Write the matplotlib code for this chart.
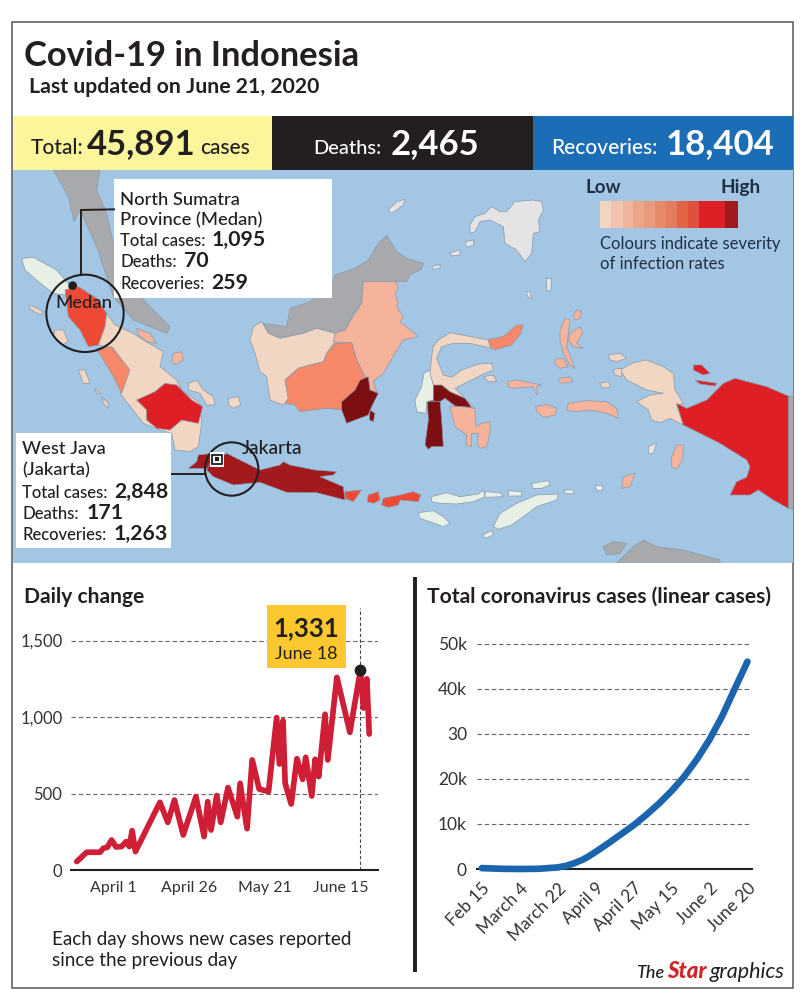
import matplotlib
matplotlib.use("Agg")
import matplotlib.pyplot as plt
from matplotlib.patches import Polygon, Rectangle, Circle

plt.rcParams['font.family'] = ['Lato', 'DejaVu Sans']

W, H = 805, 1000
INK = '#231f20'

# ---------- chart data ----------
daily_x = [-12.2, -8.9, -4.5, -3.4, -2.1, -0.7, 0.8, 2.6, 4.1, 5.2, 6.1, 7.2, 15.3, 17.9, 20.1, 23.0,
           27.2, 29.9, 31.1, 32.2, 34.1, 35.4, 37.8, 40.9, 41.8, 44.1, 45.8, 48.1, 51.2, 53.9, 54.8,
           56.0, 56.7, 58.7, 60.6, 62.5, 63.5, 65.5, 66.6, 67.8, 69.9, 70.8, 73.8, 78.1, 81.6, 82.6,
           83.7, 84.5]
daily_y = [57, 118, 118, 144, 150, 198, 152, 155, 187, 155, 259, 122, 444, 313, 459, 231,
           481, 220, 448, 263, 488, 313, 540, 350, 568, 272, 721, 531, 514, 997, 694,
           977, 568, 433, 729, 594, 738, 485, 725, 612, 1019, 721, 1260, 901, 1308, 1060,
           1250, 890]
daily_ticks = [0, 25, 50, 75]
daily_ticklabels = ['April 1', 'April 26', 'May 21', 'June 15']
daily_yticks = [0, 500, 1000, 1500]
daily_yticklabels = ['0', '500', '1,000', '1,500']
peak_x, peak_y = 81.6, 1308

total_x = [0, 9, 18, 27, 36, 40, 44, 48, 51, 54, 60, 66, 72, 78, 84, 90, 96, 102, 108, 114, 120, 123, 126]
total_y = [200, 50, 0, 50, 350, 700, 1300, 2100, 2900, 3800, 5700, 7700, 9700, 12000, 14500, 17300, 20500,
           24300, 28700, 33900, 40000, 43000, 46000]
total_ticks = [0, 18, 36, 54, 72, 90, 108, 126]
total_ticklabels = ['Feb 15', 'March 4', 'March 22', 'April 9', 'April 27', 'May 15', 'June 2', 'June 20']
total_yticks = [0, 10000, 20000, 30000, 40000, 50000]
total_yticklabels = ['0', '10k', '20k', '30', '40k', '50k']

legend_colors = ['#f1d5c1', '#f0c4ae', '#eeb49c', '#eba68a', '#e89a7e', '#e68a6c', '#e47c5f', '#e06545',
                 '#de503b', '#dd2026', '#a01a1d']
legend_edges = [600, 633, 668, 700, 733, 765, 797, 830, 863, 897, 975, 1014]

# ---------- map colours ----------
PALE = '#f0d6c3'; PEACH = '#f5b39c'; ORANGE = '#f7886a'; REDOR = '#ef4a36'; RED = '#df1f26'
BRICK = '#a21a1d'; DARK = '#7d0f12'; GREEN = '#e6f0e6'; GREY = '#a7a9ac'; LIGHT = '#e4e4e6'


def z5(pts):
    return [(x + 720, y + 30) for x, y in pts]


def z2(pts):
    return [(x + 1200, y) for x, y in pts]


def z7(pts):
    return [(x + 1230, y + 510) for x, y in pts]


# ---------- map outlines (traced, in map units) ----------
malay = [(160, 0), (300, 0), (290, 60), (320, 130), (340, 220), (380, 330), (440, 400), (510, 470), (500, 490),
         (450, 470), (400, 450), (340, 380), (290, 230), (240, 120), (222, 155), (205, 80)]
aceh = [(65, 265), (100, 262), (170, 300), (195, 330), (210, 345), (195, 375), (160, 370), (115, 335), (75, 300)]
n_sumatra = [(195, 360), (235, 350), (290, 385), (320, 430), (315, 470), (305, 510), (295, 525), (265, 530),
             (240, 480), (205, 440)]
mid_sumatra = [(320, 430), (345, 465), (400, 490), (430, 510), (490, 545), (480, 590), (530, 630), (545, 660),
               (600, 700), (605, 760), (595, 830), (570, 845), (525, 840), (515, 790), (480, 780), (430, 760),
               (360, 670), (385, 600), (340, 535), (295, 525), (315, 470)]
s_sumatra = [(410, 690), (465, 665), (495, 640), (530, 645), (575, 690), (608, 710), (595, 760), (545, 750),
             (510, 780), (470, 775), (440, 750), (440, 720)]
w_sumatra = [(290, 535), (335, 530), (390, 600), (365, 670), (340, 620), (310, 570)]
sum_isles = [[(90, 405), (130, 425), (120, 435), (88, 415)],
             [(165, 480), (190, 480), (205, 515), (185, 525), (160, 500)],
             [(235, 600), (255, 600), (270, 640), (250, 640)],
             [(285, 655), (300, 670), (290, 672)],
             [(305, 680), (325, 700), (325, 715), (310, 700)],
             [(565, 640), (590, 630), (610, 660), (640, 680), (645, 705), (620, 705), (600, 670), (565, 660)],
             [(685, 685), (715, 680), (722, 705), (700, 715), (685, 705)]]
sum_peach = [[(520, 550), (545, 545), (550, 570), (525, 585), (515, 570)],
             [(410, 475), (450, 490), (470, 520), (440, 515), (415, 495)]]

sarawak = z5([(70, 430), (140, 440), (150, 385), (210, 365), (275, 315), (285, 285), (345, 265), (385, 240),
              (415, 190), (440, 165), (470, 215), (500, 235), (550, 250), (545, 268), (510, 285), (500, 305),
              (465, 305), (370, 305), (365, 370), (340, 400), (315, 450), (285, 460), (230, 445), (190, 460),
              (120, 475), (85, 460)])
e_kal = z5([(370, 305), (465, 305), (475, 320), (465, 345), (475, 370), (470, 380), (490, 410), (480, 425),
            (535, 470), (490, 480), (465, 520), (430, 580), (400, 605), (410, 635), (390, 630), (375, 590),
            (350, 540), (335, 490), (280, 485), (285, 460), (315, 450), (345, 400), (365, 370)])
w_kal = z5([(65, 425), (85, 460), (120, 475), (190, 460), (230, 445), (285, 460), (285, 485), (260, 520),
            (250, 545), (175, 565), (135, 600), (145, 655), (130, 675), (90, 660), (80, 590), (60, 575),
            (45, 520), (30, 480), (40, 440)])
c_kal = z5([(285, 490), (335, 487), (350, 540), (375, 590), (350, 625), (305, 670), (305, 690), (260, 685),
            (180, 695), (165, 675), (135, 670), (145, 655), (135, 600), (175, 565), (250, 545), (260, 520)])
s_kal = z5([(360, 600), (385, 590), (390, 630), (415, 640), (395, 680), (385, 705), (320, 730), (305, 690),
            (305, 665), (345, 630)])
laut = z5([(390, 690), (405, 700), (400, 725), (388, 720)])
palawan = z5([(445, 90), (470, 65), (495, 58), (490, 75), (455, 100)])

n_sul = z2([(115, 510), (150, 488), (265, 510), (275, 535), (210, 520), (160, 520), (125, 530), (110, 565),
            (130, 615), (155, 622), (185, 600), (235, 582), (275, 580), (280, 600), (250, 612), (215, 630),
            (175, 650), (165, 655), (225, 715), (190, 710), (150, 675), (100, 645), (90, 610), (95, 560),
            (100, 530)])
gorontalo = z2([(265, 508), (310, 500), (350, 465), (370, 465), (360, 495), (335, 525), (285, 540), (270, 530)])
w_sul = z2([(72, 610), (90, 600), (100, 645), (100, 690), (80, 695), (78, 730), (50, 725), (45, 690), (65, 650)])
s_sul = z2([(82, 695), (120, 690), (125, 750), (130, 830), (95, 830), (85, 838), (75, 825), (85, 750)])
s_sul_arm = z2([(100, 645), (125, 645), (150, 665), (195, 685), (215, 712), (165, 708), (135, 685), (120, 695),
                (100, 695)])
se_sul = z2([(150, 710), (185, 710), (225, 715), (228, 770), (245, 760), (270, 755), (270, 790), (260, 830),
             (240, 835), (232, 820), (235, 790), (215, 790), (215, 830), (198, 825), (200, 795), (165, 770)])
togian = z2([(250, 620), (280, 615), (290, 635), (265, 635)])
maluku = [z2(p) for p in [
    [(495, 445), (510, 450), (505, 490), (500, 530), (525, 595), (510, 585), (490, 550), (480, 510), (480, 480)],
    [(530, 420), (545, 425), (540, 445), (525, 450), (520, 435)],
    [(510, 490), (540, 470), (548, 490), (530, 520), (550, 535), (520, 530), (505, 510)],
    [(465, 568), (490, 565), (505, 590), (480, 595), (465, 582)],
    [(478, 625), (510, 620), (518, 635), (490, 640), (476, 635)],
    [(322, 635), (350, 630), (425, 645), (410, 650), (412, 675), (405, 665), (400, 650), (340, 655), (325, 650)],
    [(407, 710), (440, 703), (470, 715), (465, 735), (430, 742), (410, 725)],
    [(505, 700), (560, 692), (620, 695), (650, 715), (655, 745), (620, 730), (570, 720), (525, 725), (500, 720)],
    [(830, 825), (850, 825), (848, 870), (830, 898), (815, 890), (815, 860)],
    [(670, 920), (705, 910), (690, 950), (665, 955)],
]]
birds_head = z2([(660, 600), (700, 578), (740, 570), (790, 590), (820, 610), (825, 660), (850, 700), (830, 705),
                 (850, 765), (810, 745), (780, 758), (755, 750), (745, 720), (710, 695), (750, 675), (790, 670),
                 (740, 660), (680, 630)])
west_papua_isles = [z2(p) for p in [
    [(625, 555), (660, 550), (680, 565), (650, 575), (630, 570)],
    [(640, 598), (665, 595), (665, 620), (645, 615)],
    [(598, 640), (625, 635), (632, 650), (610, 655)],
]]
papua = z2([(830, 700), (860, 715), (920, 690), (970, 640), (1005, 625), (1100, 650), (1165, 678), (1165, 1015),
            (1120, 990), (1075, 960), (1050, 975), (990, 975), (1010, 935), (1040, 922), (1050, 890), (1040, 870),
            (960, 820), (900, 790), (850, 765)])
biak = z2([(880, 585), (905, 585), (930, 610), (910, 615), (880, 600)])
yapen = z2([(885, 630), (950, 640), (945, 648), (900, 642)])
png = z2([(1165, 678), (1180, 680), (1180, 1018), (1165, 1015)])
mindanao = z2([(210, 165), (225, 140), (255, 130), (275, 110), (300, 125), (320, 125), (345, 95), (400, 90),
               (425, 95), (430, 120), (415, 150), (420, 185), (400, 190), (395, 250), (375, 275), (350, 240),
               (315, 220), (310, 170), (270, 150), (240, 155), (225, 185), (210, 190)])
phil_isles = [z2(p) for p in [
    [(195, 215), (220, 210), (222, 225), (200, 232)],
    [(150, 248), (180, 240), (180, 255), (155, 258)],
    [(95, 290), (120, 283), (120, 295), (100, 298)],
    [(440, 325), (455, 325), (452, 365), (440, 360)],
    [(378, 365), (390, 365), (395, 385), (385, 382)],
    [(745, 830), (770, 818), (760, 850), (745, 850)],
]]
lesser_sunda = [z7(p) for p in [
    [(65, 470), (110, 458), (150, 470), (205, 462), (220, 450), (225, 470), (190, 485), (140, 492), (90, 490),
     (65, 485)],
    [(225, 455), (270, 458), (280, 470), (225, 472)],
    [(295, 452), (335, 455), (335, 468), (295, 468)],
    [(250, 560), (270, 520), (320, 490), (380, 465), (445, 462), (440, 480), (380, 500), (340, 530), (305, 555),
     (265, 568)],
    [(218, 585), (245, 572), (250, 585), (225, 595)],
    [(25, 518), (70, 512), (100, 530), (120, 550), (100, 560), (60, 545), (30, 535)],
    [(365, 430), (415, 422), (420, 435), (395, 445), (368, 445)],
    [(462, 450), (490, 450), (492, 462), (465, 460)],
    [(555, 435), (575, 435), (575, 450), (558, 450)],
]]
banten = [(595, 855), (635, 850), (630, 895), (565, 895), (590, 875)]
java = [(630, 880), (680, 850), (720, 870), (780, 900), (840, 885), (850, 875), (870, 885), (945, 900), (1010, 905),
        (1000, 915), (960, 920), (1030, 950), (1035, 990), (950, 968), (860, 967), (780, 937), (700, 945),
        (640, 920), (620, 900)]
bali_sumbawa = [[(1035, 965), (1085, 960), (1060, 995), (1035, 985)],
                [(1105, 975), (1135, 965), (1140, 990), (1120, 1000), (1102, 995)],
                [(1150, 985), (1200, 975), (1240, 965), (1262, 975), (1255, 995), (1200, 990), (1195, 1005),
                 (1165, 1012), (1145, 1005)]]
south_land = [z2(p) for p in [
    [(610, 1130), (640, 1115), (680, 1120), (660, 1150), (620, 1155)],
    [(650, 1179), (700, 1130), (730, 1110), (770, 1130), (850, 1140), (960, 1170), (960, 1179)],
]]

map_layers = [
    (GREY, [malay, sarawak, png] + south_land),
    (GREEN, [aceh, w_sul] + lesser_sunda),
    (REDOR, [n_sumatra] + bali_sumbawa),
    (PALE, [mid_sumatra, w_kal, n_sul, birds_head, togian] + sum_isles + west_papua_isles),
    (PEACH, [e_kal, se_sul] + sum_peach + maluku),
    (ORANGE, [w_sumatra, c_kal, gorontalo]),
    (RED, [s_sumatra, papua, biak, yapen]),
    (BRICK, [banten, java]),
    (DARK, [s_kal, laut, s_sul, s_sul_arm]),
    (LIGHT, [palawan, mindanao] + phil_isles),
]

# ---------- figure ----------
fig = plt.figure(figsize=(W / 100, H / 100), dpi=100, facecolor='white')


def rect_axes(x0, y0, x1, y1, **kw):
    return fig.add_axes([x0 / W, 1 - y1 / H, (x1 - x0) / W, (y1 - y0) / H], **kw)


page = rect_axes(0, 0, W, H, zorder=5)
page.set_xlim(0, W); page.set_ylim(H, 0); page.axis('off')
page.patch.set_alpha(0)

under = rect_axes(0, 0, W, H, zorder=0)
under.set_xlim(0, W); under.set_ylim(H, 0); under.axis('off')
under.add_patch(Rectangle((12, 22), 781, 966, fc='white', ec='#555555', lw=1.1))
under.add_patch(Rectangle((13, 116), 259, 54, fc='#fbf59b', ec='none'))
under.add_patch(Rectangle((272, 116), 261, 54, fc=INK, ec='none'))
under.add_patch(Rectangle((533, 116), 260, 54, fc='#1b6db5', ec='none'))
under.plot([414.5, 414.5], [577, 972], color=INK, lw=2.8, solid_capstyle='butt')

page.text(24, 66, 'Covid-19 in Indonesia', fontsize=24.8, fontweight='bold', color=INK, va='baseline')
page.text(29, 93, 'Last updated on June 21, 2020', fontsize=15.3, fontweight='bold', color=INK, va='baseline')

page.text(31, 154, 'Total:', fontsize=15, color=INK, va='baseline', fontweight='medium')
page.text(87, 154, '45,891', fontsize=25, fontweight='bold', color=INK, va='baseline')
page.text(200, 154, 'cases', fontsize=15, color=INK, va='baseline', fontweight='medium')
page.text(313, 154, 'Deaths:', fontsize=14.5, color='white', va='baseline', fontweight='medium')
page.text(391, 154, '2,465', fontsize=25, fontweight='bold', color='white', va='baseline')
page.text(551, 154, 'Recoveries:', fontsize=15, color='white', va='baseline', fontweight='medium')
page.text(666, 154, '18,404', fontsize=25, fontweight='bold', color='white', va='baseline')

# ---------- map ----------
mp = rect_axes(13, 170, 793, 563, zorder=1)
mp.set_xlim(39, 2379); mp.set_ylim(1179, 0)
mp.set_xticks([]); mp.set_yticks([])
mp.set_facecolor('#a3c6e4')
for s in mp.spines.values():
    s.set_visible(False)
for colour, shapes in map_layers:
    for pts in shapes:
        mp.add_patch(Polygon(pts, closed=True, fc=colour, ec='#8a99a8', lw=0.5, joinstyle='round'))

for i, c in enumerate(legend_colors):
    mp.add_patch(Rectangle((1200 + legend_edges[i], 93), legend_edges[i + 1] - legend_edges[i], 82, fc=c, ec='none'))
mp.text(1757, 52, 'Low', fontsize=13.5, fontweight='bold', color='#1f2f45', va='center')
mp.text(2160, 52, 'High', fontsize=13.8, fontweight='bold', color='#1f2f45', va='center')
mp.text(1800, 222, 'Colours indicate severity', fontsize=12, color='#1f2f45', va='center')
mp.text(1800, 282, 'of infection rates', fontsize=12, color='#1f2f45', va='center')

# callouts
mp.add_patch(Rectangle((342, 28), 653, 355, fc='white', ec='none', zorder=6))
mp.add_patch(Rectangle((48, 790), 466, 345, fc='white', ec='none', zorder=6))
mp.plot([243, 243, 342], [315, 120, 118], color=INK, lw=1.4, zorder=7, solid_joinstyle='miter')
mp.plot([515, 615], [912, 912], color=INK, lw=1.4, zorder=7)
mp.add_patch(Circle((255, 430), 116, fc='none', ec=INK, lw=1.5, zorder=7))
mp.add_patch(Circle((695, 897), 80, fc='none', ec=INK, lw=1.5, zorder=7))
mp.add_patch(Circle((218, 347), 13, fc=INK, ec='none', zorder=8))
mp.add_patch(Rectangle((629, 846), 44, 44, fc='white', ec='none', zorder=8))
mp.add_patch(Rectangle((637, 854), 28, 28, fc='white', ec=INK, lw=1.3, zorder=9))
mp.add_patch(Rectangle((645, 862), 12, 12, fc=INK, ec='none', zorder=10))
mp.text(253, 400, 'Medan', fontsize=13.3, fontweight='medium', color=INK, ha='center', va='center', zorder=9)
mp.text(815, 835, 'Jakarta', fontsize=13.8, fontweight='medium', color=INK, ha='center', va='center', zorder=9)

LAB = 12
VAL = 15.3
HEAD = 13.2
page.text(120, 205, 'North Sumatra', fontsize=HEAD, fontweight='medium', color=INK)
page.text(120, 225, 'Province (Medan)', fontsize=HEAD, fontweight='medium', color=INK)
page.text(120, 246, 'Total cases:', fontsize=LAB, fontweight='medium', color=INK)
page.text(212, 246, '1,095', fontsize=VAL, fontweight='bold', color=INK)
page.text(120, 267, 'Deaths:', fontsize=LAB, fontweight='medium', color=INK)
page.text(184, 267, '70', fontsize=VAL, fontweight='bold', color=INK)
page.text(120, 289, 'Recoveries:', fontsize=LAB, fontweight='medium', color=INK)
page.text(211, 289, '259', fontsize=VAL, fontweight='bold', color=INK)

page.text(22, 454, 'West Java', fontsize=HEAD, fontweight='medium', color=INK)
page.text(22, 475, '(Jakarta)', fontsize=HEAD, fontweight='medium', color=INK)
page.text(22, 498, 'Total cases:', fontsize=LAB, fontweight='medium', color=INK)
page.text(114, 498, '2,848', fontsize=VAL, fontweight='bold', color=INK)
page.text(22, 519, 'Deaths:', fontsize=LAB, fontweight='medium', color=INK)
page.text(87, 519, '171', fontsize=VAL, fontweight='bold', color=INK)
page.text(22, 540, 'Recoveries:', fontsize=LAB, fontweight='medium', color=INK)
page.text(114, 540, '1,263', fontsize=VAL, fontweight='bold', color=INK)

# ---------- daily chart ----------
page.text(24, 603, 'Daily change', fontsize=15.1, fontweight='bold', color=INK)
ax = rect_axes(70.7, 608, 378.3, 870.3, zorder=2)
ax.patch.set_alpha(0)
ax.set_xlim(-14.2, 87.5); ax.set_ylim(0, 1713)
for s in ['top', 'left', 'right']:
    ax.spines[s].set_visible(False)
ax.spines['bottom'].set_linewidth(1.5); ax.spines['bottom'].set_color(INK)
ax.set_yticks(daily_yticks, daily_yticklabels, fontsize=12, color='#333333')
ax.set_xticks(daily_ticks, daily_ticklabels, fontsize=11.5, color='#333333')
ax.tick_params(length=0, axis='y', pad=6)
ax.tick_params(length=0, axis='x', pad=8)
for v in daily_yticks[1:]:
    ax.axhline(v, color='#666666', lw=0.8, ls=(0, (4, 2.5)), zorder=1)
ax.axvline(peak_x, color='#444444', lw=0.8, ls=(0, (3, 2)), zorder=1)
ax.plot(daily_x, daily_y, color='#cf1f36', lw=4.1, solid_joinstyle='round', solid_capstyle='round', zorder=3)
ax.plot([peak_x], [peak_y], 'o', ms=7.5, color=INK, zorder=4)
page.add_patch(Rectangle((267, 605), 79, 63, fc='#fdc82f', ec='none'))
page.text(306.5, 636, '1,331', fontsize=18.5, fontweight='bold', color=INK, ha='center')
page.text(306.5, 659, 'June 18', fontsize=13, color=INK, ha='center')
page.text(52, 945, 'Each day shows new cases reported', fontsize=13.6, color=INK)
page.text(52, 966, 'since the previous day', fontsize=13.6, color=INK)

# ---------- cumulative chart ----------
page.text(427, 603, 'Total coronavirus cases (linear cases)', fontsize=15.1, fontweight='bold', color=INK)
bx = rect_axes(476.7, 640, 752.3, 869, zorder=2)
bx.patch.set_alpha(0)
bx.set_xlim(-2.4, 128.3); bx.set_ylim(0, 50800)
for s in ['top', 'left', 'right']:
    bx.spines[s].set_visible(False)
bx.spines['bottom'].set_linewidth(1.5); bx.spines['bottom'].set_color(INK)
bx.set_yticks(total_yticks, total_yticklabels, fontsize=12.5, color='#333333')
bx.set_xticks(total_ticks, total_ticklabels, fontsize=12.5, color='#333333', rotation=45, ha='right',
              rotation_mode='anchor')
bx.tick_params(length=0, axis='y', pad=7)
bx.tick_params(length=0, axis='x', pad=8)
for v in total_yticks[1:]:
    bx.axhline(v, color='#666666', lw=0.8, ls=(0, (4, 2.5)), zorder=1)
bx.plot(total_x, total_y, color='#1b64ae', lw=4.8, solid_joinstyle='round', solid_capstyle='round', zorder=3,
        clip_on=False)

# ---------- credit ----------
page.text(636, 978, 'The', fontsize=13, style='italic', fontweight='medium', color=INK)
page.text(667, 978, 'Star', fontsize=16, style='italic', fontweight='black', color='#d2232a')
page.text(710, 978, 'graphics', fontsize=15.5, style='italic', color=INK)

fig.savefig('out.png', dpi=100)
